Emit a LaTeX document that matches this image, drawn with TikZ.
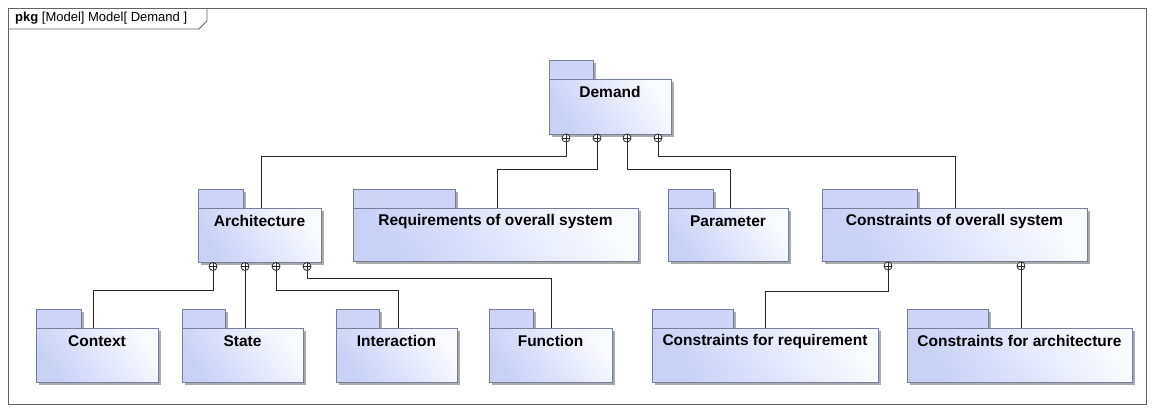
\documentclass[tikz,border=0pt]{standalone}
\usepackage{fontspec}
\setmainfont{Liberation Sans}
\usetikzlibrary{shadows,calc}

\definecolor{pkgline}{RGB}{118,126,158}
\definecolor{pkgtabfill}{RGB}{206,213,249}
\definecolor{pkgleft}{RGB}{200,208,246}
\definecolor{pkgright}{RGB}{250,251,255}
\definecolor{wire}{RGB}{40,40,40}
\definecolor{framegray}{RGB}{100,100,100}

\tikzset{
  pkgshadow/.style={drop shadow={shadow xshift=3pt, shadow yshift=-3pt, fill=black!33, opacity=1}},
  pkgbody/.style={draw=pkgline, line width=0.9pt, left color=pkgleft, right color=pkgright,
    shading angle=125, pkgshadow, inner sep=0, outer sep=0, anchor=north west},
  pkgtab/.style={draw=pkgline, line width=0.9pt, fill=pkgtabfill, pkgshadow,
    inner sep=0, outer sep=0, anchor=south west, minimum height=19pt},
  pkgname/.style={font=\fontsize{15.5}{18}\selectfont\bfseries, inner sep=0},
  own/.style={circle, draw=wire, line width=0.8pt, fill=white, minimum size=8pt, inner sep=0,
    path picture={\draw[wire, line width=0.8pt]
      (path picture bounding box.north) -- (path picture bounding box.south)
      (path picture bounding box.west) -- (path picture bounding box.east);}},
  wirestyle/.style={draw=wire, line width=0.9pt},
}

% package symbol: name, left, body top, right, bottom, tab width, title
\newcommand\pkgbox[7]{%
  \node[pkgtab, minimum width=#6pt] (#1-tab) at (#2,#3) {};
  \node[pkgbody, minimum width=#4pt-#2pt, minimum height=#5pt-#3pt] (#1) at (#2,#3) {};
  \node[pkgname] (#1-name) at ($(#1.north)+(0,13)$) {#7};
}

\begin{document}
\begin{tikzpicture}[x=1pt, y=-1pt]
\useasboundingbox (0,0) rectangle (1153,407);

% diagram frame and its name tab
\draw[framegray, line width=0.8pt] (8,8) rectangle (1146,404);
\draw[framegray, line width=0.8pt] (8,29) -- (199,29) -- (207,21) -- (207,8);
\node[anchor=west, inner sep=0, font=\fontsize{13}{15}\selectfont] (frametitle) at (15,18)
  {\textbf{pkg} [Model] Model[ Demand ]};

% packages
\pkgbox{demand}{549}{79}{671}{134}{44}{Demand}
\pkgbox{arch}{198}{208}{321}{262}{45}{Architecture}
\pkgbox{req}{353}{208}{638}{261}{102}{Requirements of overall system}
\pkgbox{param}{668}{208}{788}{261}{45}{Parameter}
\pkgbox{cos}{822}{208}{1087}{261}{95}{Constraints of overall system}
\pkgbox{context}{36}{328}{158}{382}{45}{Context}
\pkgbox{state}{182}{328}{303}{382}{43}{State}
\pkgbox{inter}{336}{328}{457}{382}{43}{Interaction}
\pkgbox{func}{489}{328}{612}{382}{44}{Function}
\pkgbox{cfr}{652}{328}{878}{382}{81}{Constraints for requirement}
\pkgbox{cfa}{907}{328}{1132}{382}{81}{Constraints for architecture}

% containment markers
\node[own] (d1) at (566,138) {};
\node[own] (d2) at (597,138) {};
\node[own] (d3) at (627,138) {};
\node[own] (d4) at (658,138) {};
\node[own] (a1) at (213,266.5) {};
\node[own] (a2) at (245,266.5) {};
\node[own] (a3) at (276,266.5) {};
\node[own] (a4) at (307,266.5) {};
\node[own] (c1) at (888,266) {};
\node[own] (c2) at (1021,266) {};

% bend points
\coordinate (k1) at (261,156);
\coordinate (k2) at (497,169);
\coordinate (k3) at (730,169);
\coordinate (k4) at (955,156);
\coordinate (k5) at (93,290);
\coordinate (k6) at (398,290);
\coordinate (k7) at (551,278);
\coordinate (k8) at (765,291);

% containment connectors
\draw[wirestyle] (d1) |- (k1) -- (k1 |- arch.north);
\draw[wirestyle] (d2) |- (k2) -- (k2 |- req.north);
\draw[wirestyle] (d3) |- (k3) -- (k3 |- param.north);
\draw[wirestyle] (d4) |- (k4) -- (k4 |- cos.north);
\draw[wirestyle] (a1) |- (k5) -- (k5 |- context.north);
\draw[wirestyle] (a2) -- (a2 |- state.north);
\draw[wirestyle] (a3) |- (k6) -- (k6 |- inter.north);
\draw[wirestyle] (a4) |- (k7) -- (k7 |- func.north);
\draw[wirestyle] (c1) |- (k8) -- (k8 |- cfr.north);
\draw[wirestyle] (c2) -- (c2 |- cfa.north);
\end{tikzpicture}
\end{document}
